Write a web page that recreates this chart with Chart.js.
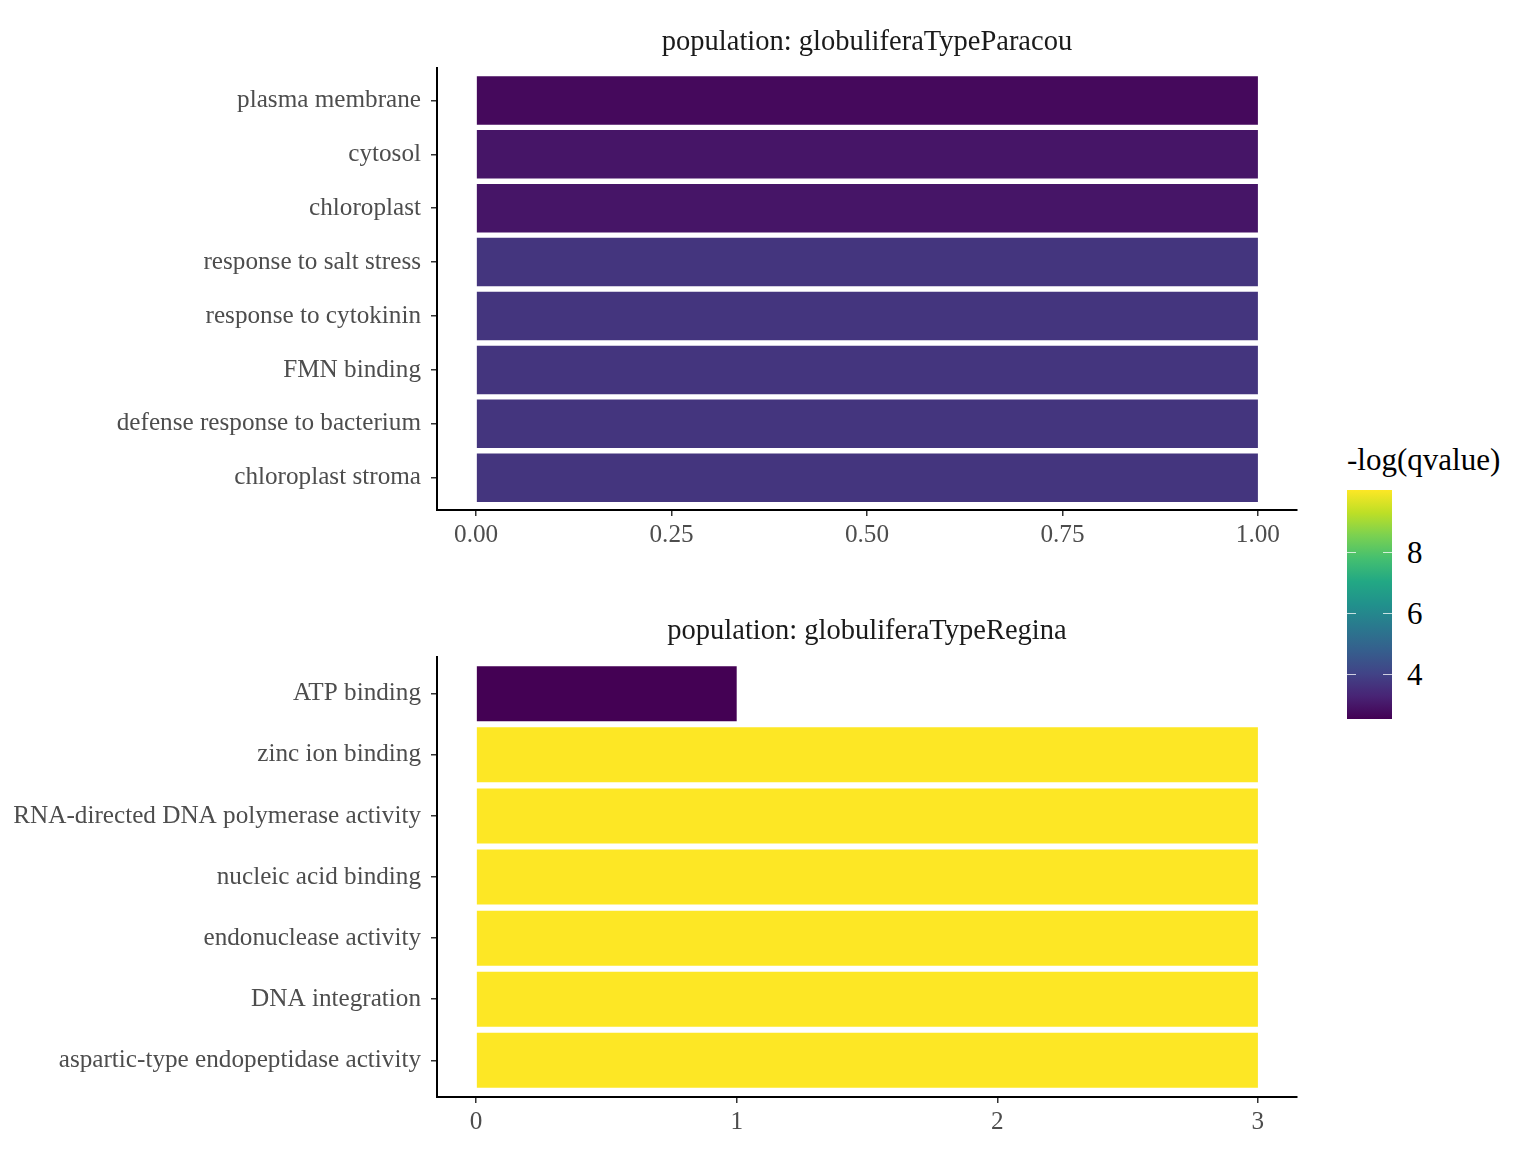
<!DOCTYPE html>
<html>
<head>
<meta charset="utf-8">
<script src="https://cdn.jsdelivr.net/npm/chart.js@4.4.1/dist/chart.umd.min.js"></script>
<style>
  html, body { margin: 0; padding: 0; background: #fff; overflow: hidden; }
  #page { position: relative; width: 1536px; height: 1152px; font-family: 'Liberation Serif', serif; }
  #page canvas { position: absolute; left: 0; }
  #paracou { top: 0; }
  #regina { top: 589px; }
  #legend-title { position: absolute; left: 1347px; top: 444px; font-size: 31px; line-height: 31px; color: #000; white-space: nowrap; }
  #legend-bar { position: absolute; left: 1347px; top: 490px; width: 45px; height: 229px; }
  .legend-tick { position: absolute; height: 1px; width: 9px; background: rgba(255,255,255,0.75); }
  .legend-label { position: absolute; left: 1407px; font-size: 31px; line-height: 31px; color: #000; transform: translateY(-50%); }
</style>
</head>
<body>
<div id="page">
  <canvas id="paracou" width="1320" height="580"></canvas>
  <canvas id="regina" width="1320" height="563"></canvas>
  <div id="legend-title">-log(qvalue)</div>
  <div id="legend-bar"></div>
</div>
<script>
// population: globuliferaTypeParacou
const paracouTerms = ['plasma membrane', 'cytosol', 'chloroplast', 'response to salt stress',
    'response to cytokinin', 'FMN binding', 'defense response to bacterium', 'chloroplast stroma'];
const paracouCounts = [1, 1, 1, 1, 1, 1, 1, 1];
const paracouLogQ = [2.70, 2.95, 2.95, 3.67, 3.67, 3.67, 3.67, 3.67];
const paracouTicks = [0, 0.25, 0.5, 0.75, 1];

// population: globuliferaTypeRegina
const reginaTerms = ['ATP binding', 'zinc ion binding', 'RNA-directed DNA polymerase activity',
    'nucleic acid binding', 'endonuclease activity', 'DNA integration', 'aspartic-type endopeptidase activity'];
const reginaCounts = [1, 3, 3, 3, 3, 3, 3];
const reginaLogQ = [2.53, 10.01, 10.01, 10.01, 10.01, 10.01, 10.01];
const reginaTicks = [0, 1, 2, 3];

// colour bar breaks
const legendTicks = [4, 6, 8];

const viridisStops = ['#440154', '#482475', '#414487', '#355f8d', '#2a788e', '#21918c',
    '#22a884', '#44bf70', '#7ad151', '#bddf26', '#fde725'];

const allLogQ = paracouLogQ.concat(reginaLogQ);
const qMin = Math.min(...allLogQ);
const qMax = Math.max(...allLogQ);

function hexToRgb(hex) {
    const n = parseInt(hex.slice(1), 16);
    return [(n >> 16) & 255, (n >> 8) & 255, n & 255];
}

function viridis(t) {
    t = Math.min(1, Math.max(0, t));
    const pos = t * (viridisStops.length - 1);
    const i = Math.min(Math.floor(pos), viridisStops.length - 2);
    const f = pos - i;
    const a = hexToRgb(viridisStops[i]);
    const b = hexToRgb(viridisStops[i + 1]);
    const c = a.map((v, k) => Math.round(v + (b[k] - v) * f));
    return `rgb(${c[0]}, ${c[1]}, ${c[2]})`;
}

Chart.defaults.font.family = "'Liberation Serif', serif";

function makePanel(canvasId, title, terms, counts, logq, ticks, decimals, axisHeight) {
    const xMax = Math.max(...counts);
    const pad = xMax * 0.05;

    new Chart(document.getElementById(canvasId), {
        type: 'bar',
        data: {
            datasets: [{
                data: terms.map((t, i) => ({ x: counts[i], y: i })),
                backgroundColor: logq.map(v => viridis((v - qMin) / (qMax - qMin))),
                borderWidth: 0,
                barPercentage: 0.9,
                categoryPercentage: 1
            }]
        },
        options: {
            indexAxis: 'y',
            responsive: false,
            animation: false,
            devicePixelRatio: 1,
            layout: { padding: { left: 0, right: 23, top: 0, bottom: 0 } },
            plugins: {
                legend: { display: false },
                tooltip: { enabled: false },
                title: {
                    display: true,
                    text: title,
                    fullSize: false,
                    color: '#1a1a1a',
                    font: { size: 28.5, weight: 'normal' },
                    padding: { top: 25.9, bottom: 8 }
                }
            },
            scales: {
                x: {
                    type: 'linear',
                    min: -pad,
                    max: xMax + pad,
                    afterBuildTicks: s => { s.ticks = ticks.map(v => ({ value: v })); },
                    afterFit: s => { s.height = axisHeight; },
                    ticks: {
                        color: '#4d4d4d',
                        font: { size: 25.2 },
                        padding: 4,
                        maxRotation: 0,
                        autoSkip: false,
                        callback: v => v.toFixed(decimals)
                    },
                    grid: { display: true, drawOnChartArea: false, drawTicks: true, tickLength: 6, color: '#333', lineWidth: 1.5 },
                    border: { display: true, color: '#000', width: 2 }
                },
                y: {
                    type: 'linear',
                    reverse: true,
                    offset: false,
                    min: -0.6,
                    max: terms.length - 0.4,
                    afterBuildTicks: s => { s.ticks = terms.map((t, i) => ({ value: i })); },
                    afterFit: s => { s.width = 437; },
                    ticks: {
                        color: '#4d4d4d',
                        font: { size: 25.2 },
                        padding: 10,
                        autoSkip: false,
                        callback: v => terms[v]
                    },
                    grid: { display: true, offset: false, drawOnChartArea: false, drawTicks: true, tickLength: 6, color: '#333', lineWidth: 1.5 },
                    border: { display: true, color: '#000', width: 2 }
                }
            }
        }
    });
}

makePanel('paracou', 'population: globuliferaTypeParacou', paracouTerms, paracouCounts, paracouLogQ, paracouTicks, 2, 70);
makePanel('regina', 'population: globuliferaTypeRegina', reginaTerms, reginaCounts, reginaLogQ, reginaTicks, 0, 55);

// Colour bar legend
function buildColourBar() {
    const bar = document.getElementById('legend-bar');
    const page = document.getElementById('page');
    const barTop = 490, barHeight = 229, barLeft = 1347, barWidth = 45;
    const stops = viridisStops.map((c, i) => `${c} ${(i / (viridisStops.length - 1) * 100).toFixed(1)}%`);
    bar.style.background = `linear-gradient(to top, ${stops.join(', ')})`;

    legendTicks.forEach(v => {
        const y = barTop + barHeight - (v - qMin) / (qMax - qMin) * barHeight;
        [barLeft, barLeft + barWidth - 9].forEach(x => {
            const tick = document.createElement('div');
            tick.className = 'legend-tick';
            tick.style.left = x + 'px';
            tick.style.top = Math.round(y) + 'px';
            page.appendChild(tick);
        });
        const label = document.createElement('div');
        label.className = 'legend-label';
        label.style.top = y + 'px';
        label.textContent = v;
        page.appendChild(label);
    });
}

buildColourBar();
</script>
</body>
</html>
